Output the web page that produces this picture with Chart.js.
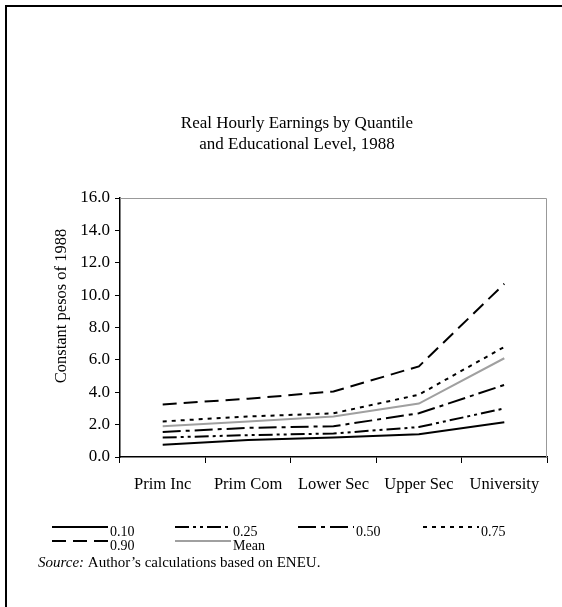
<!DOCTYPE html>
<html>
<head>
<meta charset="utf-8">
<script src="https://cdn.jsdelivr.net/npm/chart.js@4.4.1/dist/chart.umd.min.js"></script>
<style>
  html, body { margin: 0; padding: 0; background: #fff; }
  #wrap { position: relative; width: 562px; height: 607px; }
</style>
</head>
<body>
<div id="wrap"><canvas id="chart" width="562" height="607"></canvas></div>
<script>
// Education levels on the x axis
const levels = ["Prim Inc", "Prim Com", "Lower Sec", "Upper Sec", "University"];

// Real hourly earnings (constant pesos of 1988)
const q10 = [0.75, 1.05, 1.2, 1.4, 2.15];
const q25 = [1.2, 1.35, 1.45, 1.85, 3.0];
const q50 = [1.55, 1.8, 1.9, 2.7, 4.45];
const q75 = [2.2, 2.5, 2.7, 3.85, 6.8];
const q90 = [3.25, 3.6, 4.05, 5.6, 10.7];
const meanVals = [1.9, 2.2, 2.5, 3.3, 6.1];

const seriesNames = ["0.10", "0.25", "0.50", "0.75", "0.90", "Mean"];
const titleLines = ["Real Hourly Earnings by Quantile", "and Educational Level, 1988"];
const yTitle = "Constant pesos of 1988";

const serif = "'Liberation Serif', 'Times New Roman', serif";

// line styles per series
const styles = [
  { color: "#000", dash: [] },
  { color: "#000", dash: [14, 4, 3, 4, 3, 4] },
  { color: "#000", dash: [18, 5, 4, 5] },
  { color: "#000", dash: [4, 5] },
  { color: "#000", dash: [14, 7] },
  { color: "#a0a0a0", dash: [] },
];

const allData = [q10, q25, q50, q75, q90, meanVals];

const datasets = allData.map((d, i) => ({
  label: seriesNames[i],
  data: d,
  borderColor: styles[i].color,
  borderDash: styles[i].dash,
  borderWidth: 2,
  pointRadius: 0,
  tension: 0,
  fill: false,
}));

// frame, title, y title, legend and source note
const decor = {
  id: "decor",
  beforeDraw(chart) {
    const ctx = chart.ctx;
    ctx.save();
    ctx.fillStyle = "#fff";
    ctx.fillRect(0, 0, chart.width, chart.height);
    ctx.restore();
  },
  afterDraw(chart) {
    const ctx = chart.ctx;
    const a = chart.chartArea;
    ctx.save();

    // outer frame (top and left visible)
    ctx.fillStyle = "#000";
    ctx.fillRect(5, 5, 557, 2);
    ctx.fillRect(5, 5, 2, 602);

    // gray top/right border of the plot
    ctx.strokeStyle = "#999";
    ctx.lineWidth = 1;
    ctx.beginPath();
    ctx.moveTo(a.left, a.top + 0.5);
    ctx.lineTo(a.right - 0.5, a.top + 0.5);
    ctx.lineTo(a.right - 0.5, a.bottom);
    ctx.stroke();

    // title
    ctx.fillStyle = "#000";
    ctx.font = "17px " + serif;
    ctx.textAlign = "center";
    ctx.textBaseline = "middle";
    ctx.fillText(titleLines[0], 297, 124);
    ctx.fillText(titleLines[1], 297, 145);

    // y axis title
    ctx.save();
    ctx.font = "16.5px " + serif;
    ctx.translate(62, 306);
    ctx.rotate(-Math.PI / 2);
    ctx.fillText(yTitle, 0, 0);
    ctx.restore();

    // legend
    const legendPos = [
      [52, 527], [175, 527], [298, 527], [423, 527],
      [52, 541], [175, 541],
    ];
    ctx.font = "14px " + serif;
    ctx.textAlign = "left";
    seriesNames.forEach((name, k) => {
      const [x, y] = legendPos[k];
      ctx.strokeStyle = styles[k].color;
      ctx.setLineDash(styles[k].dash);
      ctx.lineWidth = 2;
      ctx.beginPath();
      ctx.moveTo(x, y);
      ctx.lineTo(x + 56, y);
      ctx.stroke();
      ctx.setLineDash([]);
      ctx.fillStyle = "#000";
      ctx.fillText(name, x + 58, y + 5);
    });

    // source note
    ctx.font = "italic 15px " + serif;
    ctx.textBaseline = "middle";
    const srcLabel = "Source:";
    ctx.fillText(srcLabel, 38, 563);
    const w = ctx.measureText(srcLabel + " ").width;
    ctx.font = "15px " + serif;
    ctx.fillText("Author\u2019s calculations based on ENEU.", 38 + w, 563);

    ctx.restore();
  },
};

new Chart(document.getElementById("chart"), {
  type: "line",
  data: { labels: levels, datasets },
  options: {
    responsive: false,
    animation: false,
    devicePixelRatio: 1,
    layout: { padding: { top: 198, left: 20, right: 15, bottom: 110 } },
    plugins: {
      legend: { display: false },
      title: { display: false },
      tooltip: { enabled: false },
    },
    scales: {
      x: {
        type: "category",
        offset: true,
        afterFit(scale) { scale.height = 40; },
        grid: {
          offset: true,
          drawOnChartArea: false,
          drawTicks: true,
          tickLength: 6,
          color: "#000",
        },
        border: { color: "#000", width: 1.5 },
        ticks: {
          color: "#000",
          padding: 12,
          maxRotation: 0,
          font: { family: serif, size: 16.5 },
        },
      },
      y: {
        min: 0,
        max: 16,
        afterFit(scale) { scale.width = 100; },
        grid: {
          drawOnChartArea: false,
          drawTicks: true,
          tickLength: 5,
          color: "#000",
        },
        border: { color: "#000", width: 1.5 },
        ticks: {
          stepSize: 2,
          color: "#000",
          padding: 5,
          font: { family: serif, size: 17 },
          callback: (v) => v.toFixed(1),
        },
      },
    },
  },
  plugins: [decor],
});
</script>
</body>
</html>
